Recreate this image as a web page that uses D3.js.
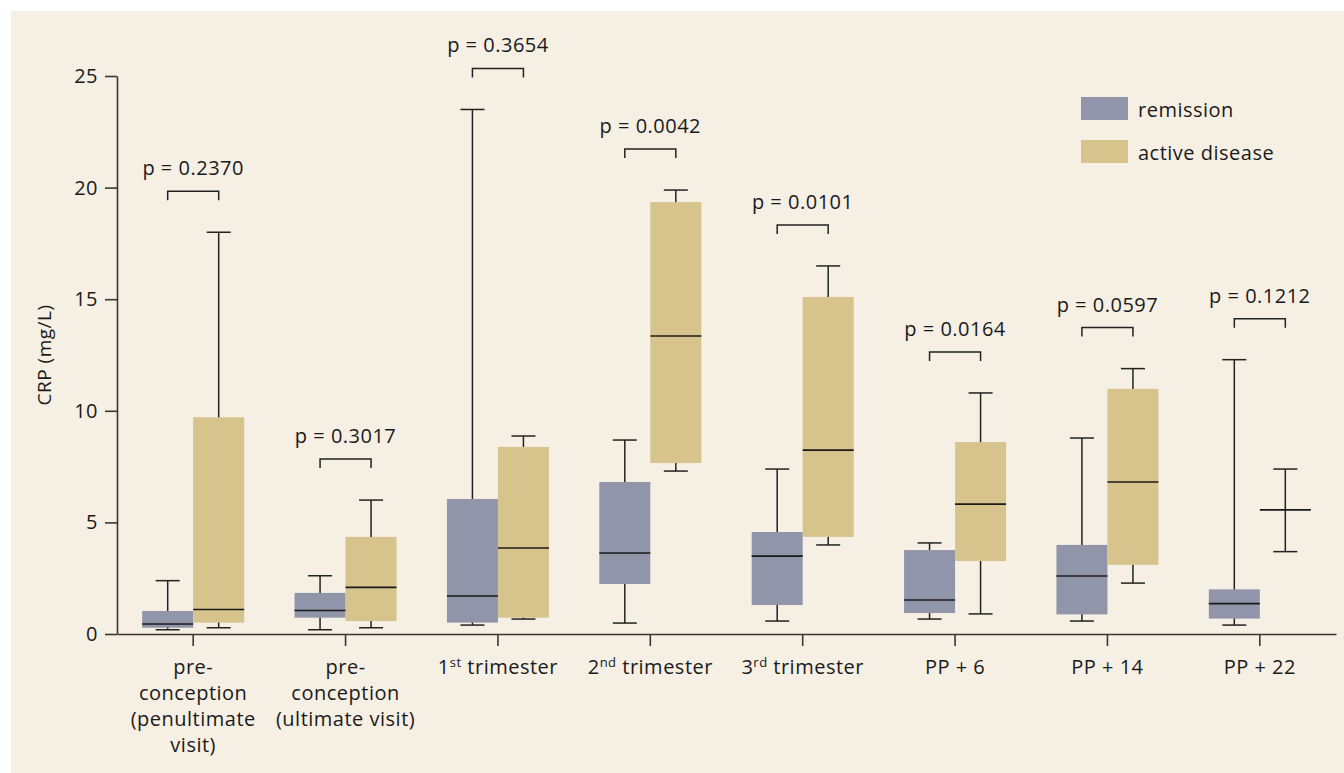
<!DOCTYPE html>
<html lang="en">

<head>
    <meta charset="UTF-8">
    <script src="https://d3js.org/d3.v7.min.js"></script>
    <title>CRP boxplot</title>
    <style>
        body { margin: 0; background: #ffffff; }
        svg text { font-family: "Open Sans", "Noto Sans", sans-serif; fill: #1a1a1a; letter-spacing: 0.5px; }
    </style>
</head>

<body>
    <div id="my_chart"></div>
    <script>
        // categories (label lines, "^" marks superscript)
        var categories = ["pre1", "pre2", "t1", "t2", "t3", "pp6", "pp14", "pp22"];
        var categoryLabels = [
            ["pre-", "conception", "(penultimate", "visit)"],
            ["pre-", "conception", "(ultimate visit)"],
            ["1^st^ trimester"],
            ["2^nd^ trimester"],
            ["3^rd^ trimester"],
            ["PP + 6"],
            ["PP + 14"],
            ["PP + 22"]
        ];
        var pValues = ["0.2370", "0.3017", "0.3654", "0.0042", "0.0101", "0.0164", "0.0597", "0.1212"];

        // remission: whisker low, q1, median, q3, whisker high
        var remLow = [0.19, 0.19, 0.40, 0.49, 0.58, 0.67, 0.58, 0.40];
        var remQ1 = [0.28, 0.73, 0.51, 2.24, 1.30, 0.94, 0.88, 0.69];
        var remMed = [0.45, 1.05, 1.70, 3.63, 3.49, 1.52, 2.60, 1.36];
        var remQ3 = [1.03, 1.84, 6.05, 6.81, 4.57, 3.76, 3.99, 2.00];
        var remHigh = [2.39, 2.61, 23.5, 8.69, 7.39, 4.08, 8.78, 12.29];

        // active disease
        var actLow = [0.28, 0.28, 0.67, 7.30, 3.99, 0.90, 2.28, 3.69];
        var actQ1 = [0.51, 0.58, 0.73, 7.66, 4.35, 3.27, 3.10, 5.56];
        var actMed = [1.10, 2.09, 3.85, 13.35, 8.24, 5.82, 6.81, 5.56];
        var actQ3 = [9.71, 4.35, 8.38, 19.35, 15.10, 8.60, 10.98, 5.56];
        var actHigh = [18.0, 6.0, 8.87, 19.89, 16.49, 10.80, 11.89, 7.39];

        var seriesNames = ["remission", "active disease"];
        var seriesColors = ["#9195aa", "#d7c48d"];
        var yTicks = [0, 5, 10, 15, 20, 25];

        var W = 1344, H = 773;
        var svg = d3.select("#my_chart")
            .append("svg")
            .attr("width", W)
            .attr("height", H);

        svg.append("rect")
            .attr("x", 11).attr("y", 11)
            .attr("width", W - 11).attr("height", H - 11)
            .attr("fill", "#f5efe4");

        var axisColor = "#3b3732";

        var x = d3.scaleBand()
            .domain(categories)
            .range([117, 1336])
            .paddingInner(0).paddingOuter(0);

        var xInner = d3.scaleBand()
            .domain([0, 1])
            .range([-51, 51]);

        var y = d3.scaleLinear()
            .domain([0, 25])
            .range([634, 76]);

        // build box data
        var boxes = [];
        categories.forEach(function (c, i) {
            boxes.push({ cat: c, s: 0, low: remLow[i], q1: remQ1[i], med: remMed[i], q3: remQ3[i], high: remHigh[i] });
            boxes.push({ cat: c, s: 1, low: actLow[i], q1: actQ1[i], med: actMed[i], q3: actQ3[i], high: actHigh[i] });
        });
        function cx(d) { return x(d.cat) + x.bandwidth() / 2 + xInner(d.s) + xInner.bandwidth() / 2; }

        var g = svg.append("g");
        var capHalf = 12;

        // whiskers
        g.selectAll(".whisker")
            .data(boxes)
            .enter()
            .append("line")
            .attr("x1", cx).attr("x2", cx)
            .attr("y1", function (d) { return y(d.low); })
            .attr("y2", function (d) { return y(d.high); })
            .attr("stroke", "#222").attr("stroke-width", 1.5);

        ["low", "high"].forEach(function (k) {
            g.selectAll(".cap-" + k)
                .data(boxes)
                .enter()
                .append("line")
                .attr("x1", function (d) { return cx(d) - capHalf; })
                .attr("x2", function (d) { return cx(d) + capHalf; })
                .attr("y1", function (d) { return y(d[k]); })
                .attr("y2", function (d) { return y(d[k]); })
                .attr("stroke", "#222").attr("stroke-width", 1.5);
        });

        // boxes
        g.selectAll(".box")
            .data(boxes)
            .enter()
            .append("rect")
            .attr("x", function (d) { return cx(d) - xInner.bandwidth() / 2; })
            .attr("width", xInner.bandwidth())
            .attr("y", function (d) { return y(d.q3); })
            .attr("height", function (d) { return y(d.q1) - y(d.q3); })
            .attr("fill", function (d) { return seriesColors[d.s]; });

        // medians
        g.selectAll(".median")
            .data(boxes)
            .enter()
            .append("line")
            .attr("x1", function (d) { return cx(d) - xInner.bandwidth() / 2; })
            .attr("x2", function (d) { return cx(d) + xInner.bandwidth() / 2; })
            .attr("y1", function (d) { return y(d.med); })
            .attr("y2", function (d) { return y(d.med); })
            .attr("stroke", "#1a1a1a").attr("stroke-width", 1.6);

        // p-value brackets
        categories.forEach(function (c, i) {
            var top = y(Math.max(remHigh[i], actHigh[i])) - 41;
            var x1 = x(c) + x.bandwidth() / 2 - 25.5;
            var x2 = x(c) + x.bandwidth() / 2 + 25.5;
            g.append("path")
                .attr("d", "M" + x1 + "," + (top + 9) + "V" + top + "H" + x2 + "V" + (top + 9))
                .attr("fill", "none")
                .attr("stroke", "#222").attr("stroke-width", 1.5);
            g.append("text")
                .attr("x", x(c) + x.bandwidth() / 2)
                .attr("y", top - 16)
                .attr("text-anchor", "middle")
                .style("font-size", "20px")
                .text("p = " + pValues[i]);
        });

        // Y axis
        var yAxis = svg.append("g")
            .attr("transform", "translate(117,0)")
            .call(d3.axisLeft(y).tickValues(yTicks).tickSize(12).tickSizeOuter(0).tickPadding(7));
        yAxis.select(".domain").attr("stroke", axisColor).attr("stroke-width", 1.6);
        yAxis.selectAll(".tick line").attr("stroke", axisColor).attr("stroke-width", 1.6);
        yAxis.selectAll(".tick text").style("font-size", "20px").attr("fill", "#1a1a1a")
            .style("font-family", "'Open Sans', sans-serif");

        // X axis
        var xAxis = svg.append("g")
            .attr("transform", "translate(0,634)")
            .call(d3.axisBottom(x).tickSize(12).tickSizeOuter(0).tickFormat(""));
        xAxis.select(".domain").attr("stroke", axisColor).attr("stroke-width", 1.6);
        xAxis.selectAll(".tick line").attr("stroke", axisColor).attr("stroke-width", 1.6);

        // X labels
        categories.forEach(function (c, i) {
            var t = svg.append("text")
                .attr("x", x(c) + x.bandwidth() / 2)
                .attr("y", 674)
                .attr("text-anchor", "middle")
                .style("font-size", "20px");
            categoryLabels[i].forEach(function (line, j) {
                var parts = line.split("^");
                t.append("tspan")
                    .attr("x", x(c) + x.bandwidth() / 2)
                    .attr("dy", j === 0 ? 0 : 26)
                    .text(parts[0]);
                if (parts.length > 1) {
                    t.append("tspan").attr("dy", -7).style("font-size", "13px").text(parts[1]);
                    t.append("tspan").attr("dy", 7).text(parts[2]);
                }
            });
        });

        // Y title
        svg.append("text")
            .attr("transform", "translate(51,355) rotate(-90)")
            .attr("text-anchor", "middle")
            .style("font-size", "19px")
            .text("CRP (mg/L)");

        // legend
        seriesNames.forEach(function (name, i) {
            svg.append("rect")
                .attr("x", 1081).attr("y", 97 + i * 43)
                .attr("width", 47).attr("height", 23)
                .attr("fill", seriesColors[i]);
            svg.append("text")
                .attr("x", 1138).attr("y", 109 + i * 43)
                .attr("dominant-baseline", "central")
                .style("font-size", "20px")
                .text(name);
        });
    </script>
</body>

</html>
